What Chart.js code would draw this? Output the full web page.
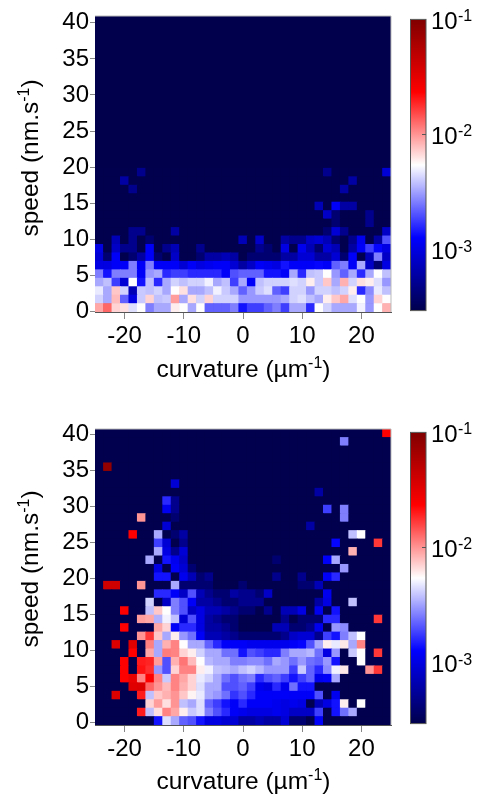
<!DOCTYPE html>
<html>
<head>
<meta charset="utf-8">
<style>
html,body{margin:0;padding:0;background:#fff;width:480px;height:797px;overflow:hidden}
canvas{position:absolute}
.w{position:absolute}
</style>
<script src="https://cdn.jsdelivr.net/npm/chart.js@4"></script>
</head>
<body>
<div class="w" style="left:0;top:0;width:402px;height:384px"><canvas id="heatTop"></canvas></div>
<div class="w" style="left:402px;top:0;width:78px;height:330px"><canvas id="barTop"></canvas></div>
<div class="w" style="left:0;top:413px;width:402px;height:384px"><canvas id="heatBottom"></canvas></div>
<div class="w" style="left:402px;top:413px;width:78px;height:330px"><canvas id="barBottom"></canvas></div>
<script>
const xTicks = [-20,-10,0,10,20];
const yTicks = [0,5,10,15,20,25,30,35,40];
const colorTicks = [1e-3,1e-2,1e-1];
const colorExponents = ["-3","-2","-1"];
const xTitle = ["curvature (µm","-1",")"];
const yTitle = ["speed (nm.s","-1",")"];
const unit = 1e-4;
const vMin = 2.95e-4;
const vMax = 1e-1;
const topDensity = [
[90,130,70,65,45,54,26,33,33,60,54,33,54,22,22,22,26,14,18,18,22,26,18,33,33,16,54,42,33,33,33,50,30,54,85],
[42,33,80,22,10,40,70,38,40,95,33,65,42,70,42,42,42,30,30,30,30,30,33,42,45,38,33,60,75,90,45,54,30,70,55],
[48,33,75,42,7,40,38,42,33,55,65,33,33,38,50,40,33,22,30,40,45,22,18,42,42,30,42,42,38,42,60,16,28,48,38],
[33,38,18,9,54,14,38,16,33,42,38,42,42,50,33,38,18,33,12,38,42,42,42,45,42,60,40,75,33,85,42,65,60,45,30],
[26,14,26,26,26,12,30,33,16,18,18,16,16,16,16,12,20,22,22,22,14,14,12,33,16,38,40,54,30,22,33,16,33,54,38],
[10,10,12,12,26,12,26,12,12,12,9,12,10,11,12,12,9,6,8,12,11,10,14,12,12,12,13,12,22,26,12,33,8,4,10],
[9,4,12,3,4,6,12,4,3,8,3,3,4,6,6,7,6,3,4,4,4,4,6,6,9,9,6,6,9,4,12,3,7,26,8],
[10,3,8,5,5,3,12,3,5,7,3,3,5,3,3,3,3,3,3,5,4,3,10,3,11,7,4,9,7,3,6,12,18,13,10],
[3,3,7,3,5,3,4,3,3,3,3,3,3,3,3,3,3,7,3,8,3,3,6,5,5,8,9,7,4,3,5,11,3,6,20],
[3,3,3,3,5,5,3,3,3,6,3,3,3,3,3,3,3,3,3,3,3,3,3,3,3,3,3,4,9,5,3,3,3,3,8],
[3,3,3,3,3,3,3,3,3,3,3,3,3,3,3,3,3,3,3,3,3,3,3,3,3,3,3,3,4,3,3,3,5,3,3],
[3,3,3,3,3,3,3,3,3,3,3,3,3,3,3,3,3,3,3,3,3,3,3,3,3,3,3,8,4,3,3,3,5,3,3],
[3,3,3,3,3,3,3,3,3,3,3,3,3,3,3,3,3,3,3,3,3,3,3,3,3,3,7,3,12,6,6,3,3,3,3],
[3,3,3,3,3,3,3,3,3,3,3,3,3,3,3,3,3,3,3,3,3,3,3,3,3,3,3,3,3,3,3,3,3,3,3],
[3,3,3,3,5,3,3,3,3,3,3,3,3,3,3,3,3,3,3,3,3,3,3,3,3,3,3,3,3,6,3,3,3,3,3],
[3,3,3,6,3,3,3,3,3,3,3,3,3,3,3,3,3,3,3,3,3,3,3,3,3,3,3,3,3,3,6,3,3,3,3],
[3,3,3,3,3,5,3,3,3,3,3,3,3,3,3,3,3,3,3,3,3,3,3,3,3,3,3,5,3,3,3,3,3,3,9]
];
const bottomDensity = [
[3,3,3,3,3,3,3,14,45,33,22,20,14,10,10,9,9,6,6,7,6,6,9,4,4,3,12,3,3,3,3,3,3,3,3],
[3,3,3,3,3,200,38,65,110,90,60,40,45,26,20,16,12,11,10,10,10,11,10,8,8,8,18,3,14,24,33,3,3,3,3],
[3,3,3,3,3,3,70,95,65,100,38,33,45,22,18,14,12,16,12,12,12,11,10,11,10,3,7,10,14,60,3,54,3,3,3],
[3,3,350,3,3,200,38,75,85,100,75,58,48,33,30,24,17,20,16,12,12,12,12,12,12,12,20,3,11,3,3,3,3,3,3],
[3,3,3,3,330,350,130,100,80,110,85,70,45,33,33,20,20,22,18,11,10,16,11,24,14,14,3,3,3,3,3,3,3,3,3],
[3,3,3,234,300,110,234,110,40,110,90,70,48,42,33,24,20,24,26,16,20,22,18,14,18,22,11,12,33,3,3,3,3,3,3],
[3,3,3,234,3,210,180,30,20,70,110,110,60,50,38,36,33,38,42,36,30,30,30,18,40,22,16,28,50,62,3,3,100,170,3],
[3,3,3,234,3,200,190,95,20,85,120,80,54,36,33,33,26,26,28,28,24,33,30,24,30,24,22,30,14,3,3,54,3,3,3],
[3,3,3,3,234,3,90,33,115,110,70,60,42,33,33,24,24,14,20,18,16,16,26,33,33,36,24,10,30,3,40,54,3,170,3],
[3,3,350,3,330,3,112,33,85,110,55,33,33,22,16,12,12,12,11,11,11,11,11,12,13,20,33,60,48,62,33,110,3,3,3],
[3,3,3,3,3,100,170,75,33,60,30,24,12,7,7,6,5,4,4,4,4,4,5,8,9,9,5,18,14,26,38,54,3,3,3],
[3,3,3,234,3,3,3,90,70,12,16,16,10,6,6,5,4,3,3,3,3,7,7,4,4,5,11,3,30,28,3,3,3,3,3],
[3,3,3,3,3,95,90,35,50,38,9,20,10,6,5,4,4,3,3,3,3,3,5,3,4,4,4,16,16,3,3,3,3,170,3],
[3,3,3,234,3,3,38,75,54,26,20,8,10,7,7,6,5,4,4,3,5,3,7,7,10,3,11,3,14,3,3,3,3,3,3],
[3,3,3,3,3,3,42,3,8,26,20,12,6,6,5,4,4,5,5,5,3,3,3,3,3,3,6,10,3,3,38,3,3,3,3],
[3,3,3,3,3,3,3,16,16,12,8,20,7,5,4,4,6,5,5,4,8,3,3,3,3,3,3,11,3,3,3,3,3,3,3],
[3,400,400,3,3,100,3,3,3,33,4,4,4,4,3,3,3,4,3,3,3,3,3,3,4,4,7,3,3,3,3,3,3,3,3],
[3,3,3,3,3,3,3,14,14,3,11,7,4,5,3,3,3,3,3,3,3,5,3,3,5,3,3,12,16,3,3,3,3,3,3],
[3,3,3,3,3,3,3,10,3,12,9,4,3,3,3,3,3,3,3,3,3,3,3,3,3,3,3,3,3,30,3,3,3,3,3],
[3,3,3,3,3,3,33,3,14,11,8,3,3,3,3,3,3,3,3,3,3,4,3,3,3,3,3,12,33,3,3,3,3,3,3],
[3,3,3,3,3,3,3,33,10,5,9,3,3,3,3,3,3,3,3,3,3,3,3,3,3,3,3,3,3,3,85,3,3,3,3],
[3,3,3,3,3,3,3,18,9,3,5,3,3,3,3,3,3,3,3,3,3,3,3,3,3,3,3,3,13,3,3,3,3,170,3],
[3,3,3,3,234,3,3,33,3,4,6,3,3,3,3,3,3,3,3,3,3,3,3,3,3,3,3,3,3,3,38,54,3,3,3],
[3,3,3,3,3,3,3,3,9,3,3,3,3,3,3,3,3,3,3,3,3,3,3,3,3,6,3,3,3,3,3,3,3,3,3],
[3,3,3,3,3,100,3,3,3,4,3,3,3,3,3,3,3,3,3,3,3,3,3,3,3,3,3,3,3,26,3,3,3,3,3],
[3,3,3,3,3,3,3,3,11,5,3,3,3,3,3,3,3,3,3,3,3,3,3,3,3,3,3,18,3,26,3,3,3,3,3],
[3,3,3,3,3,3,3,3,16,5,3,3,3,3,3,3,3,3,3,3,3,3,3,3,3,3,3,3,3,3,3,3,3,3,3],
[3,3,3,3,3,3,3,3,3,3,3,3,3,3,3,3,3,3,3,3,3,3,3,3,3,3,6,3,3,3,3,3,3,3,3],
[3,3,3,3,3,3,3,3,3,9,3,3,3,3,3,3,3,3,3,3,3,3,3,3,3,3,3,3,3,3,3,3,3,3,3],
[3,3,3,3,3,3,3,3,3,3,3,3,3,3,3,3,3,3,3,3,3,3,3,3,3,3,3,3,3,3,3,3,3,3,3],
[3,800,3,3,3,3,3,3,3,3,3,3,3,3,3,3,3,3,3,3,3,3,3,3,3,3,3,3,3,3,3,3,3,3,3],
[3,3,3,3,3,3,3,3,3,3,3,3,3,3,3,3,3,3,3,3,3,3,3,3,3,3,3,3,3,3,3,3,3,3,3],
[3,3,3,3,3,3,3,3,3,3,3,3,3,3,3,3,3,3,3,3,3,3,3,3,3,3,3,3,3,3,3,3,3,3,3],
[3,3,3,3,3,3,3,3,3,3,3,3,3,3,3,3,3,3,3,3,3,3,3,3,3,3,3,3,3,26,3,3,3,3,3],
[3,3,3,3,3,3,3,3,3,3,3,3,3,3,3,3,3,3,3,3,3,3,3,3,3,3,3,3,3,3,3,3,3,3,234]
];

const NAVY = [0,0,76];
function seismic(t){
  t = Math.max(0,Math.min(1,t));
  const stops = [[0,0,0,76],[.25,0,0,255],[.5,255,255,255],[.75,255,0,0],[1,128,0,0]];
  for(let i=1;i<stops.length;i++){
    if(t<=stops[i][0]){
      const a=stops[i-1],b=stops[i],f=(t-a[0])/(b[0]-a[0]);
      return `rgb(${[1,2,3].map(k=>Math.round(a[k]+(b[k]-a[k])*f)).join(',')})`;
    }
  }
  return 'rgb(128,0,0)';
}
function colorOf(v){
  return seismic((Math.log10(v)-Math.log10(vMin))/(Math.log10(vMax)-Math.log10(vMin)));
}
const FONT = "'Liberation Sans', Arial, sans-serif";
const INK = '#000';
const AXIS = '#555';
const TICK = '#888';
const SIZE = 24, TITLE = 24.5, SUP = 16;

function supText(x,parts,cx,base,rot){
  const [pre,sup,post]=parts;
  x.save();
  x.fillStyle=INK;x.textAlign='left';x.textBaseline='alphabetic';
  x.font=`${TITLE}px ${FONT}`;
  const w1=x.measureText(pre).width,w3=x.measureText(post).width;
  x.font=`${SUP}px ${FONT}`;
  const w2=x.measureText(sup).width;
  const total=w1+w2+w3;
  x.translate(cx,base);
  if(rot) x.rotate(-Math.PI/2);
  x.font=`${TITLE}px ${FONT}`;
  x.fillText(pre,-total/2,0);
  x.fillText(post,-total/2+w1+w2,0);
  x.font=`${SUP}px ${FONT}`;
  x.fillText(sup,-total/2+w1,-9);
  x.restore();
}

const frame = {
  id:'frame',
  beforeDatasetsDraw(c){
    const a=c.chartArea,x=c.ctx;
    x.save();x.fillStyle=`rgb(${NAVY})`;x.fillRect(a.left,a.top,a.width,a.height);x.restore();
  },
  afterDatasetsDraw(c){
    const a=c.chartArea,x=c.ctx;
    x.save();x.strokeStyle='#bbb';x.lineWidth=1;
    x.beginPath();x.moveTo(a.left,a.top);x.lineTo(a.right,a.top);x.lineTo(a.right,a.bottom);x.stroke();
    x.restore();
  },
  afterDraw(c){
    supText(c.ctx,xTitle,243.5,377-(c.canvas.id==='heatBottom'?1:0),false);
    supText(c.ctx,yTitle,37.5,158-(c.canvas.id==='heatBottom'?2:0),true);
  }
};

function heatmap(id,rows,yMin,yMax){
  const nx=35, xMin=-25, xMax=25, dx=(xMax-xMin)/nx, dy=(yMax-yMin)/35;
  const datasets=rows.map((row,r)=>({
    data:row.map((v,c)=>({x:xMin+dx*(c+.5),y:[yMin+dy*r,yMin+dy*(r+1)],v:v*unit})),
    backgroundColor:row.map(v=>colorOf(v*unit)),
    borderWidth:0,
    grouped:false,
    barPercentage:1,
    categoryPercentage:1,
    inflateAmount:0.35
  }));
  new Chart(document.getElementById(id),{
    type:'bar',
    data:{datasets},
    plugins:[frame],
    options:{
      responsive:true,maintainAspectRatio:false,animation:false,
      layout:{padding:{top:16,right:11,left:0,bottom:0}},
      plugins:{legend:{display:false},tooltip:{enabled:false}},
      scales:{
        x:{type:'linear',min:xMin,max:xMax,offset:false,
          afterBuildTicks(s){s.ticks=xTicks.map(value=>({value}));},
          afterFit(s){s.height=72;},
          border:{color:AXIS,width:1},
          grid:{offset:false,drawOnChartArea:false,color:TICK,tickLength:7,lineWidth:1},
          ticks:{color:INK,font:{family:FONT,size:SIZE},padding:3,maxRotation:0,autoSkip:false}
        },
        y:{type:'linear',min:yMin,max:yMax,
          afterBuildTicks(s){s.ticks=yTicks.map(value=>({value}));},
          afterFit(s){s.width=95;},
          border:{color:AXIS,width:1},
          grid:{drawOnChartArea:false,color:TICK,tickLength:5,lineWidth:1},
          ticks:{color:INK,font:{family:FONT,size:SIZE},padding:1,autoSkip:false}
        }
      }
    }
  });
}

function colorbar(id){
  const lo=vMin,hi=vMax;
  new Chart(document.getElementById(id),{
    type:'bar',
    data:{labels:['density'],datasets:[{
      data:[[lo,hi]],
      barPercentage:1,categoryPercentage:1,borderWidth:0,inflateAmount:0,
      backgroundColor(ctx){
        const a=ctx.chart.chartArea; if(!a) return '#000';
        const g=ctx.chart.ctx.createLinearGradient(0,a.bottom,0,a.top);
        for(let i=0;i<=40;i++){g.addColorStop(i/40,seismic(i/40));}
        return g;
      }
    }]},
    plugins:[{id:'barFrame',afterDatasetsDraw(c){
      const a=c.chartArea,x=c.ctx;x.save();x.strokeStyle='#555';x.lineWidth=1;
      x.strokeRect(a.left,a.top,a.width,a.height);
      const yy=c.scales.y.getPixelForValue(1e-2);
      x.beginPath();x.moveTo(a.right-4,yy);x.lineTo(a.right,yy);x.stroke();
      x.restore();
    },afterDraw(c){
      const x=c.ctx,s=c.scales.y;
      x.save();x.fillStyle=INK;x.font=`${SUP}px ${FONT}`;x.textAlign='left';x.textBaseline='alphabetic';
      colorTicks.forEach((v,i)=>{x.fillText(colorExponents[i],c.chartArea.right+32,s.getPixelForValue(v)+2);});
      x.restore();
    }}],
    options:{
      responsive:true,maintainAspectRatio:false,animation:false,
      layout:{padding:{top:16,bottom:18,left:8.5,right:0}},
      plugins:{legend:{display:false},tooltip:{enabled:false}},
      scales:{
        x:{display:false},
        y:{type:'logarithmic',position:'right',min:lo,max:hi,
          afterBuildTicks(s){s.ticks=colorTicks.map(value=>({value}));},
          afterFit(s){s.width=54;},
          border:{display:false},
          grid:{display:false,drawTicks:false},
          ticks:{color:INK,font:{family:FONT,size:SIZE},padding:5,labelOffset:3,autoSkip:false,
            callback(){return '10';}}
        }
      }
    }
  });
}
heatmap('heatTop',topDensity,-0.1,40.95);
heatmap('heatBottom',bottomDensity,-0.3,40.75);
colorbar('barTop');
colorbar('barBottom');
</script>
</body>
</html>
